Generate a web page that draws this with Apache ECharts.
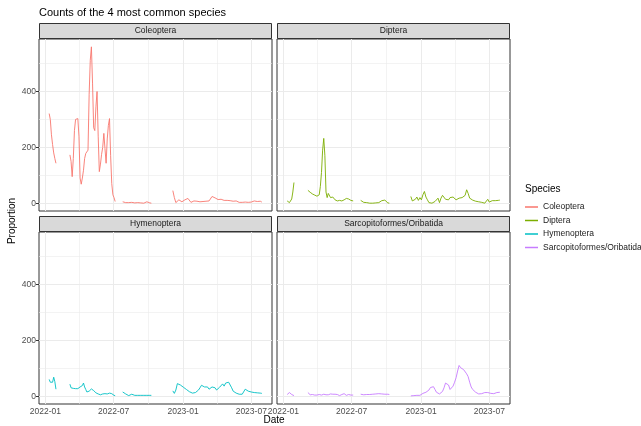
<!DOCTYPE html>
<html><head><meta charset="utf-8">
<script src="https://cdn.jsdelivr.net/npm/echarts@6/dist/echarts.min.js"></script>
<style>html,body{margin:0;padding:0;background:#fff}#c{width:641px;height:426px}</style>
</head><body><div id="c"></div>
<script>
const species = ['Coleoptera', 'Diptera', 'Hymenoptera', 'Sarcopitoformes/Oribatida'];
const colors = ['#F8766D', '#7CAE00', '#00BFC4', '#C77CFF'];

const dates = [
  '2022-01-11','2022-01-14','2022-01-17','2022-01-20','2022-01-23','2022-01-26','2022-01-29',
  '2022-02-15',
  '2022-03-07','2022-03-10','2022-03-13','2022-03-16','2022-03-19','2022-03-22','2022-03-25','2022-03-28','2022-03-31',
  '2022-04-03','2022-04-06','2022-04-09','2022-04-12','2022-04-15','2022-04-18','2022-04-21','2022-04-24','2022-04-27','2022-04-30',
  '2022-05-03','2022-05-06','2022-05-09','2022-05-12','2022-05-15','2022-05-18','2022-05-21','2022-05-24','2022-05-27','2022-05-30',
  '2022-06-02','2022-06-05','2022-06-08','2022-06-11','2022-06-14','2022-06-17','2022-06-20','2022-06-23','2022-06-26','2022-06-29',
  '2022-07-02','2022-07-05',
  '2022-07-15',
  '2022-07-25','2022-07-29','2022-08-02','2022-08-06','2022-08-10','2022-08-14','2022-08-18','2022-08-22','2022-08-26','2022-08-30',
  '2022-09-03','2022-09-07','2022-09-11','2022-09-15','2022-09-19','2022-09-23','2022-09-27','2022-10-01','2022-10-05','2022-10-09',
  '2022-11-08',
  '2022-12-05','2022-12-09','2022-12-13','2022-12-17','2022-12-21','2022-12-25','2022-12-29',
  '2023-01-02','2023-01-06','2023-01-10','2023-01-14','2023-01-18','2023-01-22','2023-01-26','2023-01-30',
  '2023-02-03','2023-02-07','2023-02-11','2023-02-15','2023-02-19','2023-02-23','2023-02-27',
  '2023-03-03','2023-03-07','2023-03-11','2023-03-15','2023-03-19','2023-03-23','2023-03-27','2023-03-31',
  '2023-04-04','2023-04-08','2023-04-12','2023-04-16','2023-04-20','2023-04-24','2023-04-28',
  '2023-05-02','2023-05-06','2023-05-10','2023-05-14','2023-05-18','2023-05-22','2023-05-26','2023-05-30',
  '2023-06-03','2023-06-07','2023-06-11','2023-06-15','2023-06-19','2023-06-23','2023-06-27',
  '2023-07-01','2023-07-05','2023-07-09','2023-07-13','2023-07-17','2023-07-21','2023-07-25','2023-07-29'
];

const coleoptera = [
  321,300,245,210,180,160,143,
  null,
  173,150,95,160,260,300,302,303,240,90,68,90,118,160,178,176,190,390,512,560,430,270,260,345,400,240,113,140,175,200,250,195,143,230,278,303,170,70,30,20,6,
  null,
  5,3,2,4,2,1,3,2,1,0,2,3,1,2,0,3,5,2,1,0,
  null,
  45,20,2,8,12,8,5,8,12,15,17,10,3,6,8,6,7,8,5,3,6,8,7,9,8,14,24,20,19,16,13,10,14,12,10,9,10,8,9,8,7,9,8,6,3,4,3,5,4,2,3,1,4,6,8,5,6,3,7,4
];
const diptera = [
  8,3,2,6,15,40,74,
  null,
  46,42,39,36,33,31,29,27,25,24,30,60,110,190,232,170,40,20,35,28,20,15,22,17,12,10,8,9,10,9,8,10,12,14,17,19,15,13,10,11,8,
  null,
  10,4,3,7,2,1,0,1,0,0,1,0,2,4,9,12,11,6,1,0,
  null,
  24,8,5,14,22,10,20,12,30,42,22,12,2,1,0,3,6,12,18,2,18,28,23,14,18,12,20,16,22,18,12,14,18,14,20,21,28,48,35,18,12,11,8,7,6,5,4,3,1,0,2,14,4,6,9,3,9,7,10,11
];
const hymenoptera = [
  60,50,43,50,68,52,25,
  null,
  43,30,26,28,27,27,26,27,30,33,28,38,47,33,24,15,11,18,24,26,24,20,16,12,9,8,6,5,3,8,11,9,12,8,7,11,8,9,4,3,2,
  null,
  15,12,8,4,2,4,7,5,3,3,3,3,3,3,3,3,3,3,3,3,
  null,
  19,10,22,45,50,40,38,32,30,24,20,16,12,11,12,13,15,22,30,39,37,33,37,33,25,30,33,39,30,22,24,32,38,44,36,47,43,50,48,30,18,14,11,9,7,9,7,12,25,24,18,22,15,16,13,9,12,10,11,10
];
const sarcoptiformes = [
  6,10,13,10,6,4,2,
  null,
  13,6,5,4,6,5,4,5,4,5,6,5,4,5,7,6,5,3,5,7,8,9,7,5,7,9,6,4,2,4,6,9,9,5,3,5,6,4,4,5,4,
  null,
  7,5,5,6,6,6,6,6,7,7,8,8,9,7,8,11,7,9,7,6,
  null,
  1,2,2,3,3,3,3,7,10,12,14,16,22,31,37,34,24,14,8,8,11,17,30,47,51,40,24,27,36,50,66,90,110,102,95,95,88,80,70,50,33,24,18,14,12,8,6,9,12,13,13,13,12,10,7,9,12,13,14,14
];

const xMajor = ['2022-01-01', '2022-07-01', '2023-01-01', '2023-07-01'];
const xMinor = ['2022-04-01', '2022-10-01', '2023-04-01'];
const yMajor = [0, 200, 400];
const yMinor = [100, 300, 500];
const xRange = ['2021-12-15', '2023-08-25'];
const yRange = [-28, 588];

const values = [coleoptera, diptera, hymenoptera, sarcoptiformes];
const ts = s => new Date(s + 'T00:00:00').getTime();
const FONT = 'Liberation Sans, Arial, sans-serif';
const panels = [
  { left: 39, top: 39 }, { left: 277, top: 39 },
  { left: 39, top: 232 }, { left: 277, top: 232 }
];
const PW = 233, PH = 172, SH = 16;

const fmt = v => { const d = new Date(v); return d.getFullYear() + '-' + String(d.getMonth() + 1).padStart(2, '0'); };

const grids = [], xAxes = [], yAxes = [], series = [], graphics = [];
panels.forEach((p, i) => {
  const bottom = i >= 2, leftCol = i % 2 === 0;
  grids.push({ left: p.left, top: p.top, width: PW, height: PH, show: true, backgroundColor: '#ffffff', borderColor: '#333333', borderWidth: 1, containLabel: false });
  xAxes.push({
    type: 'value', gridIndex: i, min: ts(xRange[0]), max: ts(xRange[1]), scale: true,
    axisLine: { show: false }, splitLine: { show: false },
    axisTick: { show: bottom, customValues: xMajor.map(ts), length: 3, lineStyle: { color: '#333333' } },
    axisLabel: { show: bottom, customValues: xMajor.map(ts), formatter: fmt, fontSize: 8.5, color: '#4d4d4d', margin: 3, fontFamily: FONT, hideOverlap: false }
  });
  yAxes.push({
    type: 'value', gridIndex: i, min: yRange[0], max: yRange[1],
    axisLine: { show: false }, splitLine: { show: false },
    axisTick: { show: leftCol, customValues: yMajor, length: 3, lineStyle: { color: '#333333' } },
    axisLabel: { show: leftCol, customValues: yMajor, fontSize: 8.5, color: '#4d4d4d', margin: 3, fontFamily: FONT }
  });
  const gl = [];
  xMajor.forEach(d => gl.push({ xAxis: ts(d), lineStyle: { color: '#ebebeb', width: 1, type: 'solid' } }));
  xMinor.forEach(d => gl.push({ xAxis: ts(d), lineStyle: { color: '#ebebeb', width: 0.6, type: 'solid' } }));
  yMajor.forEach(v => gl.push({ yAxis: v, lineStyle: { color: '#ebebeb', width: 1, type: 'solid' } }));
  yMinor.forEach(v => gl.push({ yAxis: v, lineStyle: { color: '#ebebeb', width: 0.6, type: 'solid' } }));
  series.push({
    type: 'line', xAxisIndex: i, yAxisIndex: i, data: [], z: 1, silent: true,
    markLine: { silent: true, symbol: 'none', z: 1, animation: false, label: { show: false }, emphasis: { disabled: true }, data: gl }
  });
  series.push({
    type: 'line', name: species[i], xAxisIndex: i, yAxisIndex: i, z: 3,
    data: dates.map((d, k) => [ts(d), values[i][k] === null ? '-' : values[i][k]]),
    symbol: 'none', showSymbol: false, connectNulls: false, animation: false,
    lineStyle: { width: 0.9, color: colors[i] }, itemStyle: { color: colors[i] }
  });
  graphics.push({ type: 'rect', shape: { x: p.left + 0.5, y: p.top - SH + 0.5, width: PW - 1, height: SH - 1 }, style: { fill: '#d9d9d9', stroke: '#333333', lineWidth: 1 }, z: 10 });
  graphics.push({ type: 'text', x: p.left + PW / 2, y: p.top - SH / 2, style: { text: species[i], align: 'center', verticalAlign: 'middle', textAlign: 'center', textVerticalAlign: 'middle', font: '8.5px ' + FONT, fill: '#1a1a1a' }, z: 11 });
});

graphics.push({ type: 'text', x: 274, y: 420, style: { text: 'Date', align: 'center', verticalAlign: 'middle', textAlign: 'center', textVerticalAlign: 'middle', font: '10px ' + FONT, fill: '#000' } });
graphics.push({ type: 'text', x: 12, y: 221, rotation: Math.PI / 2, style: { text: 'Proportion', align: 'center', verticalAlign: 'middle', textAlign: 'center', textVerticalAlign: 'middle', font: '10px ' + FONT, fill: '#000' } });
graphics.push({ type: 'text', x: 525, y: 189, style: { text: 'Species', align: 'left', verticalAlign: 'middle', textAlign: 'left', textVerticalAlign: 'middle', font: '10px ' + FONT, fill: '#000' } });

const chart = echarts.init(document.getElementById('c'), null, { renderer: 'canvas' });
chart.setOption({
  backgroundColor: '#ffffff',
  animation: false,
  title: { text: 'Counts of the 4 most common species', left: 39, top: 7, padding: 0, textStyle: { fontSize: 11, fontWeight: 'normal', color: '#000', fontFamily: FONT } },
  legend: {
    orient: 'vertical', left: 525, top: 202, padding: 0, itemWidth: 13, itemHeight: 1.5, itemGap: 3.5,
    icon: 'rect',
    data: species, selectedMode: false,
    textStyle: { fontSize: 8.5, color: '#1a1a1a', fontFamily: FONT, lineHeight: 10 }
  },
  grid: grids, xAxis: xAxes, yAxis: yAxes, series: series, graphic: graphics
});
</script>
</body></html>
